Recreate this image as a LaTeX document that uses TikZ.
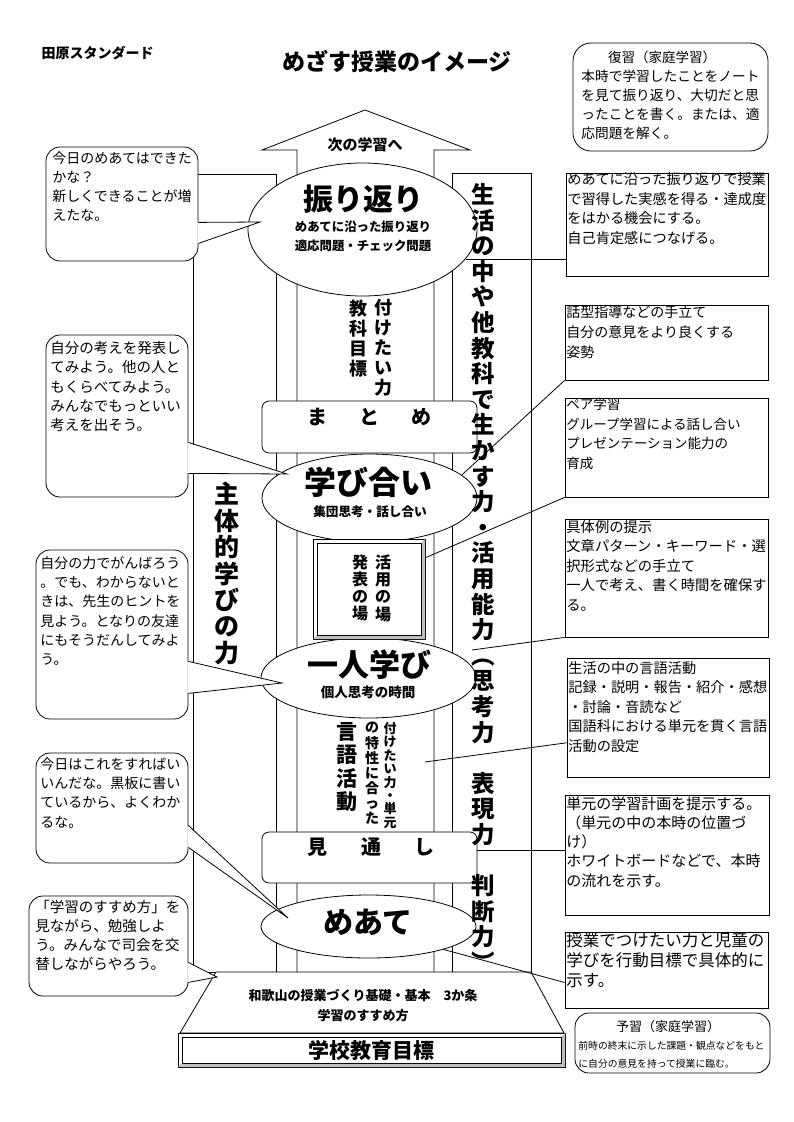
\documentclass[tikz,border=0pt]{standalone}
\usepackage{fontspec}
\setmainfont{Noto Sans CJK JP}
\usetikzlibrary{shapes,positioning}

\tikzset{
  oval/.style={draw, ellipse, fill=white, inner sep=0pt},
  roundbox/.style={draw, fill=white, rounded corners=7pt, inner sep=0pt},
  talkbox/.style={draw, fill=white, rounded corners=14pt, inner sep=0pt},
  notebox/.style={draw, fill=white, inner sep=0pt},
  talk/.style={anchor=north west, align=left, inner sep=0pt, font=\fontsize{14}{19.3}\selectfont},
  note/.style={anchor=north west, align=left, inner sep=0pt, font=\fontsize{14.2}{19.6}\selectfont},
  tate/.style={anchor=north, align=center, inner sep=0pt},
  big/.style={font=\bfseries\fontsize{31}{31}\selectfont},
  sub/.style={font=\bfseries\fontsize{12.4}{12.4}\selectfont}
}

\begin{document}
\begin{tikzpicture}[x=1pt, y=-1pt, line width=0.8pt]
\useasboundingbox (0,0) rectangle (794,1122);

% arrow up to the next lesson
\draw (297,972) -- (297,150) -- (262,150) -- (365,110) -- (470,150) -- (434,150) -- (434,972);
\node[font=\bfseries\fontsize{15}{15}\selectfont] (tsugi) at (365,145) {次の学習へ};

% side pillars
\draw (193,174) rectangle (276,972);
\draw (452,173) rectangle (531,972);

% base and school goal
\draw[fill=white] (216,972) -- (531,972) -- (564,1033) -- (180,1033) -- cycle;
\node[font=\bfseries\fontsize{13}{13}\selectfont] (kihon) at (363,996) {和歌山の授業づくり基礎・基本　3か条};
\node[font=\bfseries\fontsize{13}{13}\selectfont] (susume) at (363,1016) {学習のすすめ方};
\node[draw, fill=white, minimum width=387pt, minimum height=34pt, font=\bfseries\fontsize{21}{21}\selectfont] (mokuhyo) at (371.5,1050) {学校教育目標};
\fill[gray!50] (565,1033) -- (565,1067) -- (178,1067) -- (182,1063) -- (561,1063) -- (561,1037) -- cycle;
\draw (182,1037) rectangle (561,1063);

% vertical texts inside
\node[tate, font=\bfseries\fontsize{18}{20}\selectfont] (kyouka) at (358,300) {教\\科\\目\\標};
\node[tate, font=\bfseries\fontsize{18}{20}\selectfont] (tsuke1) at (383,299) {付\\け\\た\\い\\力};
\node[tate, font=\bfseries\fontsize{25}{26.4}\selectfont] (shutai) at (227,482) {主\\体\\的\\学\\び\\の\\力};
\node[tate, font=\bfseries\fontsize{21}{23.3}\selectfont] (gengo) at (347,722) {言\\語\\活\\動};
\node[tate, font=\bfseries\fontsize{14}{15.1}\selectfont] (tokusei) at (372,722) {の\\特\\性\\に\\合\\っ\\た};
\node[tate, font=\bfseries\fontsize{13}{13.4}\selectfont] (tsuke2) at (390,722) {付\\け\\た\\い\\力\\・\\単\\元};

% matome and mitoshi
\node[roundbox, minimum width=215pt, minimum height=52pt] (matome) at (369.5,427) {};
\node[font=\bfseries\fontsize{20}{20}\selectfont] (matome-t) at (369,417) {ま\hspace{32pt}と\hspace{32pt}め};
\node[roundbox, minimum width=215pt, minimum height=51pt] (mitoshi) at (369.5,857.5) {};
\node[font=\bfseries\fontsize{20}{20}\selectfont] (mitoshi-t) at (371,847) {見\hspace{34pt}通\hspace{33pt}し};

% ellipses
\node[oval, minimum width=229pt, minimum height=133pt] (furikaeri) at (362.5,229.5) {};
\node[big, font=\bfseries\fontsize{30}{30}\selectfont] (furikaeri-t) at (363,199) {振り返り};
\node[sub] (furikaeri-s1) at (363,227) {めあてに沿った振り返り};
\node[sub] (furikaeri-s2) at (363,246) {適応問題・チェック問題};

\node[oval, minimum width=215pt, minimum height=88pt] (manabi) at (369.5,498) {};
\node[big, font=\bfseries\fontsize{32}{32}\selectfont] (manabi-t) at (368,482) {学び合い};
\node[sub, font=\bfseries\fontsize{12.6}{12.6}\selectfont] (manabi-s) at (370,512) {集団思考・話し合い};

\node[oval, minimum width=215pt, minimum height=80pt] (hitori) at (368.5,678) {};
\node[big] (hitori-t) at (369,665) {一人学び};
\node[sub, font=\bfseries\fontsize{13.5}{13.5}\selectfont] (hitori-s) at (368,692) {個人思考の時間};

\node[oval, minimum width=215pt, minimum height=63pt] (meate) at (368.5,926.5) {};
\node[big, font=\bfseries\fontsize{30}{30}\selectfont] (meate-t) at (368,922) {めあて};

% place for using and presenting
\node[draw, fill=white, minimum width=112pt, minimum height=100pt] (ba) at (369,589) {};
\fill[gray!50] (425,539) -- (425,639) -- (313,639) -- (317,635) -- (421,635) -- (421,543) -- cycle;
\draw (317,543) rectangle (421,635);
\node[tate, font=\bfseries\fontsize{16}{17.3}\selectfont] (katsuyou) at (383,554) {活\\用\\の\\場};
\node[tate, font=\bfseries\fontsize{16}{17.3}\selectfont] (happyou) at (360,554) {発\\表\\の\\場};

% children's voices
\node[talkbox, minimum width=152pt, minimum height=114pt] (c1) at (122,204) {};
\node[talk, font=\fontsize{14}{19}\selectfont] (c1t) at (52,151) {今日のめあてはできた\\かな？\\新しくできることが増\\えたな。};
\node[talkbox, minimum width=142pt, minimum height=162pt] (c2) at (117,416) {};
\node[talk, font=\fontsize{14.5}{19.3}\selectfont] (c2t) at (50,341) {自分の考えを発表し\\てみよう。他の人と\\もくらべてみよう。\\みんなでもっといい\\考えを出そう。};
\node[talkbox, minimum width=152pt, minimum height=169pt] (c3) at (112,634.5) {};
\node[talk] (c3t) at (40,556) {自分の力でがんばろう\\。でも、わからないと\\きは、先生のヒントを\\見よう。となりの友達\\にもそうだんしてみよ\\う。};
\node[talkbox, minimum width=152pt, minimum height=110pt] (c4) at (112,808) {};
\node[talk] (c4t) at (40,757) {今日はこれをすればい\\いんだな。黒板に書い\\ているから、よくわか\\るな。};
\node[talkbox, minimum width=159pt, minimum height=100pt] (c5) at (108.5,946) {};
\node[talk, font=\fontsize{14.5}{19}\selectfont] (c5t) at (35,900) {「学習のすすめ方」を\\見ながら、勉強しよ\\う。みんなで司会を交\\替しながらやろう。};

% pointers of the voices
\coordinate (tip1) at (260,222);
\coordinate (tip2) at (287,474);
\coordinate (tip3) at (282,683);
\coordinate (tip4) at (288,918);
\coordinate (tip5) at (217,977);
\fill[white] ([xshift=-1pt,yshift=39pt]c1.south east) -- (tip1) -- ([xshift=-1pt,yshift=18pt]c1.south east) -- cycle;
\draw ([yshift=39pt]c1.south east) -- (tip1) -- ([yshift=18pt]c1.south east);
\fill[white] ([xshift=-1pt,yshift=55pt]c2.south east) -- (tip2) -- ([xshift=-1pt,yshift=24pt]c2.south east) -- cycle;
\draw ([yshift=55pt]c2.south east) -- (tip2) -- ([yshift=24pt]c2.south east);
\fill[white] ([xshift=-1pt,yshift=58pt]c3.south east) -- (tip3) -- ([xshift=-1pt,yshift=26pt]c3.south east) -- cycle;
\draw ([yshift=58pt]c3.south east) -- (tip3) -- ([yshift=26pt]c3.south east);
\fill[white] ([xshift=-1pt,yshift=38pt]c4.south east) -- (tip4) -- ([xshift=-1pt,yshift=16pt]c4.south east) -- cycle;
\draw ([yshift=38pt]c4.south east) -- (tip4) -- ([yshift=16pt]c4.south east);
\fill[white] ([xshift=-1pt,yshift=34pt]c5.south east) -- (tip5) -- ([xshift=-1pt,yshift=14pt]c5.south east) -- cycle;
\draw ([yshift=34pt]c5.south east) -- (tip5) -- ([yshift=14pt]c5.south east);

% home study boxes
\node[draw, fill=white, rounded corners=18pt, minimum width=195pt, minimum height=108pt] (fukushu) at (670.5,97) {};
\node[font=\fontsize{13.5}{13.5}\selectfont] (fukushu-t) at (662,57) {復習（家庭学習）};
\node[note, font=\fontsize{13.7}{18.7}\selectfont] (fukushu-x) at (581,70) {本時で学習したことをノート\\を見て振り返り、大切だと思\\ったことを書く。または、適\\応問題を解く。};
\node[draw, fill=white, rounded corners=14pt, minimum width=195pt, minimum height=60pt] (yoshu) at (672.5,1043) {};
\node[font=\fontsize{13}{13}\selectfont] (yoshu-t) at (668,1027) {予習（家庭学習）};
\node[note, font=\fontsize{9.8}{18}\selectfont] (yoshu-x) at (578,1041) {前時の終末に示した課題・観点などをもと\\に自分の意見を持って授業に臨む。};

% teacher notes on the right
\node[notebox, minimum width=202pt, minimum height=103pt] (r1) at (667,224.5) {};
\node[note, font=\fontsize{14.2}{19.7}\selectfont] (r1t) at (567,172) {めあてに沿った振り返りで授業\\で習得した実感を得る・達成度\\をはかる機会にする。\\自己肯定感につなげる。};
\node[notebox, minimum width=203pt, minimum height=75pt] (r2) at (666.5,342.5) {};
\node[note, font=\fontsize{14}{20}\selectfont] (r2t) at (566,305) {話型指導などの手立て\\自分の意見をより良くする\\姿勢};
\node[notebox, minimum width=203pt, minimum height=99pt] (r3) at (666.5,447.5) {};
\node[note, font=\fontsize{13.5}{19.4}\selectfont] (r3t) at (566,398) {ペア学習\\グループ学習による話し合い\\プレゼンテーション能力の\\育成};
\node[notebox, minimum width=203pt, minimum height=118pt] (r4) at (666.5,578) {};
\node[note, font=\fontsize{14.3}{19.5}\selectfont] (r4t) at (566,520) {具体例の提示\\文章パターン・キーワード・選\\択形式などの手立て\\一人で考え、書く時間を確保す\\る。};
\node[notebox, minimum width=202pt, minimum height=119pt] (r5) at (668,717.5) {};
\node[note, font=\fontsize{14.2}{19.5}\selectfont] (r5t) at (568,661) {生活の中の言語活動\\記録・説明・報告・紹介・感想\\・討論・音読など\\国語科における単元を貫く言語\\活動の設定};
\node[notebox, minimum width=204pt, minimum height=120pt] (r6) at (667,855) {};
\node[note, font=\fontsize{15}{19.3}\selectfont] (r6t) at (566,796) {単元の学習計画を提示する。\\（単元の中の本時の位置づ\\け）\\ホワイトボードなどで、本時\\の流れを示す。};
\node[notebox, minimum width=203pt, minimum height=76pt] (r7) at (666.5,970) {};
\node[note, font=\fontsize{16.5}{20}\selectfont] (r7t) at (566,932) {授業でつけたい力と児童の\\学びを行動目標で具体的に\\示す。};

% connectors to the notes
\coordinate (r4end) at (472,650);
\coordinate (r5end) at (425,762);
\draw (furikaeri.-16) -- (furikaeri.-16 -| r1.west);
\draw (r2.south west) -- (manabi.14);
\draw (r3.south west) -- (ba.29);
\draw (r4.south west) -- (r4end);
\draw (r5.194) -- (r5end);
\draw (mitoshi.4) -- (mitoshi.4 -| r6.west);
\draw (meate.-17) -- (r7.187);

% right pillar text
\node[tate, font=\bfseries\fontsize{23.5}{25.6}\selectfont] (seikatsu) at (483,183) {生\\活\\の\\中\\や\\他\\教\\科\\で\\生\\か\\す\\力\\・\\活\\用\\能\\力\\︵\\思\\考\\力\\　\\表\\現\\力\\　\\判\\断\\力\\︶};

% titles
\node[anchor=west, font=\bfseries\fontsize{14}{14}\selectfont] (tahara) at (38,53) {田原スタンダード};
\node[font=\bfseries\fontsize{23}{23}\selectfont] (title) at (397,62) {めざす授業のイメージ};
\end{tikzpicture}
\end{document}
